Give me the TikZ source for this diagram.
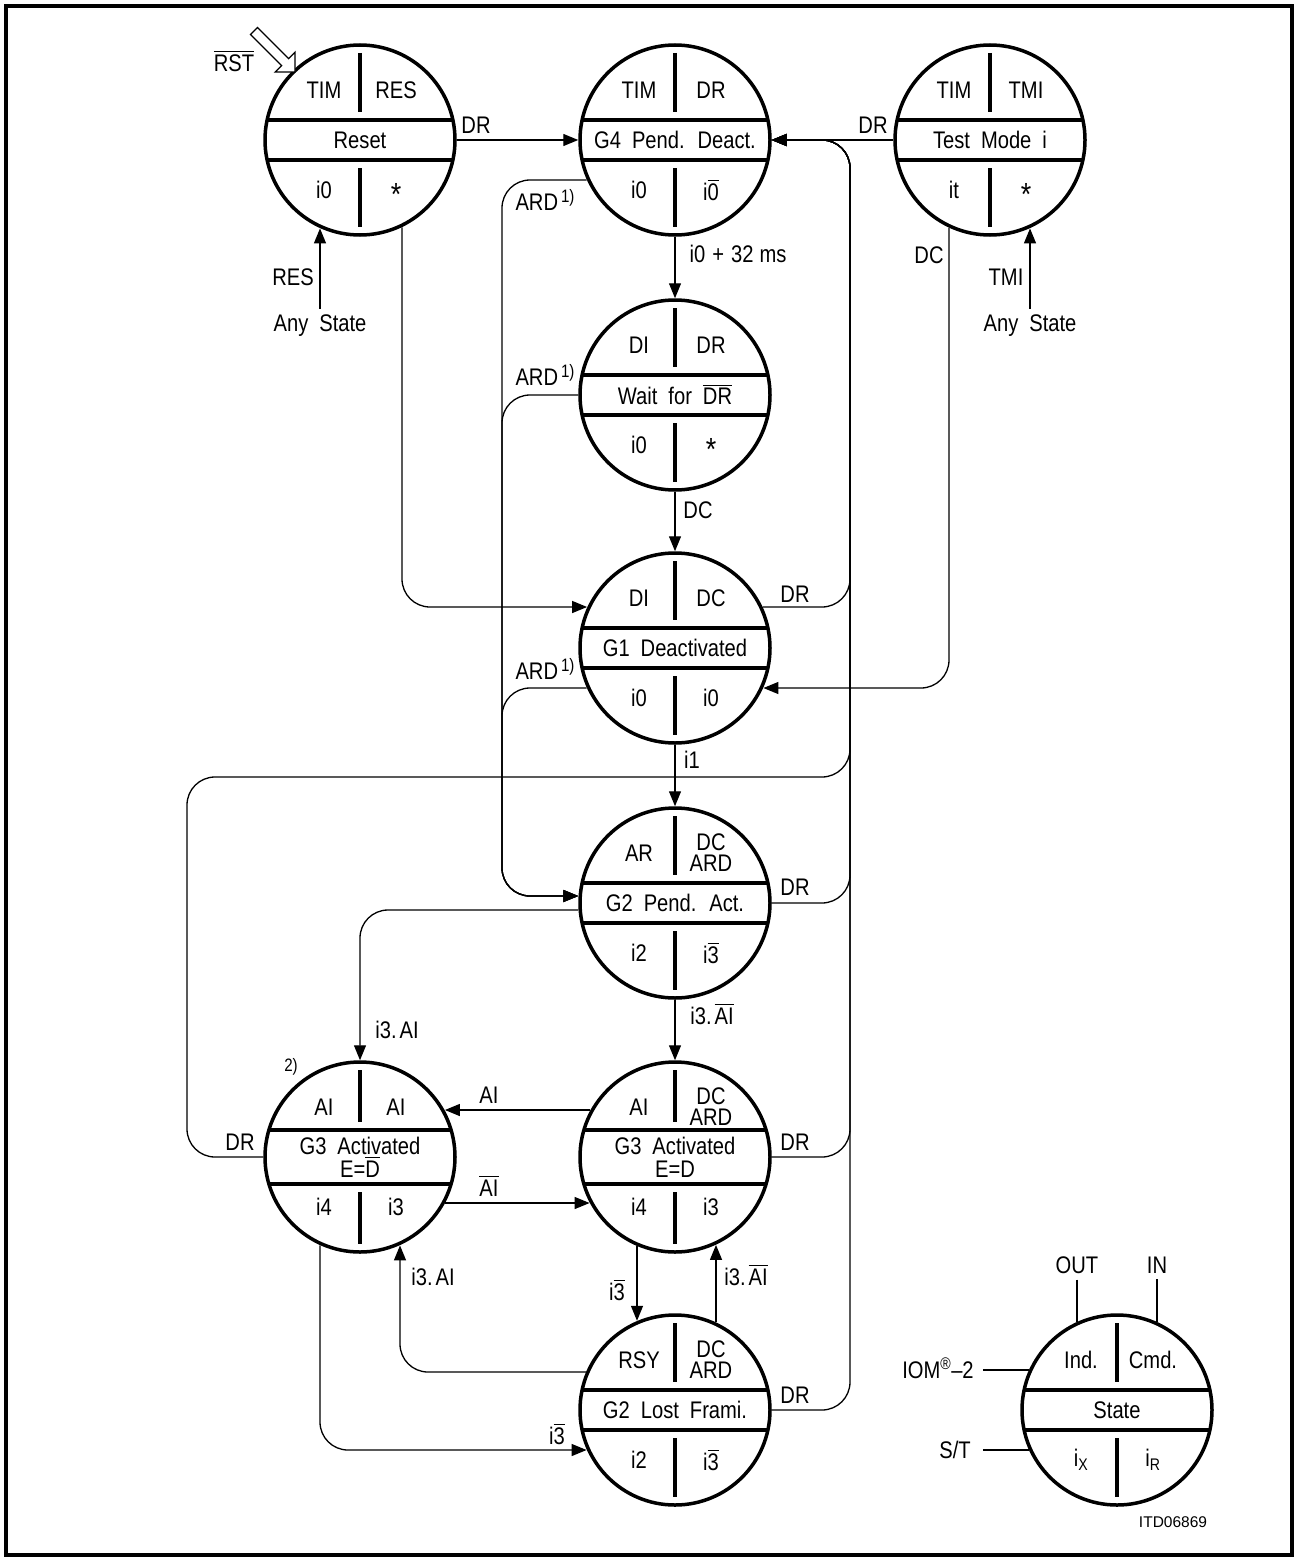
\documentclass[tikz,border=0pt]{standalone}
\usepackage{fontspec}
\setmainfont[FakeStretch=0.84]{Liberation Sans}
\newfontfamily\plainsans{Liberation Sans}
\usetikzlibrary{arrows.meta,calc}
\newcommand\lblfont{\fontsize{24}{23}\selectfont\spaceskip=11pt plus 2pt\relax}
\newcommand\ovl[1]{\leavevmode\vbox{\hrule height 1.5pt\kern 2.2pt\hbox{#1}}}
\newcommand\astx{\vphantom{T}\smash{\raisebox{-7pt}{\fontsize{32}{32}\selectfont *}}}
\newcommand\supone{\hspace{3pt}\raisebox{8pt}{\fontsize{18}{18}\selectfont 1)}}
\newcommand\mkstate[9]{%
  \node[stc] (#1) at (#2,#3) {};
  \pgfmathsetmacro\mkhw{sqrt(9025-#4*#4)}
  \draw[bandln] ({#2-\mkhw},{#3-#4}) -- ({#2+\mkhw},{#3-#4});
  \draw[bandln] ({#2-\mkhw},{#3+#4}) -- ({#2+\mkhw},{#3+#4});
  \draw[bandln] (#2,{#3-87}) -- (#2,{#3-#4-8});
  \draw[bandln] (#2,{#3+#4+8}) -- (#2,{#3+87});
  \node[stxt] (#1-tl) at ({#2-36},{#3-50}) {#5};
  \node[stxt] (#1-tr) at ({#2+36},{#3-50}) {#6};
  \node[stxt] (#1-band) at (#2,#3) {#7};
  \node[stxt] (#1-bl) at ({#2-36},{#3+50}) {#8};
  \node[stxt] (#1-br) at ({#2+36},{#3+50}) {#9};
}
\begin{document}
\begin{tikzpicture}[x=1pt,y=-1pt,
  stc/.style={circle,draw,line width=3.5pt,minimum size=190pt,inner sep=0pt},
  bandln/.style={line width=3.6pt},
  stxt/.style={font=\lblfont,inner sep=0pt,align=center},
  lbl/.style={font=\lblfont,inner sep=0pt},
  conn/.style={line width=1.3pt,rounded corners=28pt},
  arr/.style={-{Triangle[length=15pt,width=12pt]}},
  ]
\useasboundingbox (0,0) rectangle (1297,1560);
\draw[line width=4pt] (6,6) rectangle (1292,1555);

% states
\mkstate{reset}{360}{140}{20}{TIM}{RES}{Reset}{i0}{\astx}
\mkstate{gfour}{675}{140}{20}{TIM}{DR}{G4 Pend. Deact.}{i0}{i\ovl{0}}
\mkstate{tmode}{990}{140}{20}{TIM}{TMI}{Test Mode i}{it}{\astx}
\mkstate{wait}{675}{395}{20}{DI}{DR}{Wait for \ovl{DR}}{i0}{\astx}
\mkstate{gone}{675}{648}{20}{DI}{DC}{G1 Deactivated}{i0}{i0}
\mkstate{gtwo}{675}{903}{20}{AR}{DC\\[-2pt]ARD}{G2 Pend. Act.}{i2}{i\ovl{3}}
\mkstate{gthr}{675}{1157}{27}{AI}{DC\\[-2pt]ARD}{G3 Activated\\E=D}{i4}{i3}
\mkstate{gthl}{360}{1157}{27}{AI}{AI}{G3 Activated\\E=\ovl{D}}{i4}{i3}
\mkstate{glost}{675}{1410}{20}{RSY}{DC\\[-2pt]ARD}{G2 Lost Frami.}{i2}{i\ovl{3}}
\mkstate{legend}{1117}{1410}{20}{Ind.}{Cmd.}{State}{i\textsubscript{X}}{i\textsubscript{R}}

% reset hollow arrow
\draw[line width=1.3pt,fill=white] (295,72) -- (295,52.2) -- (288.6,58.6) -- (257.5,27.5) -- (250.5,34.5) -- (281.6,65.6) -- (275.2,72) -- cycle;

% coordinates on circles
\coordinate (resIn) at ($(reset)+(-40,88.4)$);
\coordinate (resOut) at ($(reset)+(42,87.4)$);
\coordinate (gfARD) at ($(gfour)+(-88.4,40)$);
\coordinate (goARD) at ($(gone)+(-88.4,40)$);
\coordinate (goRes) at ($(gone)+(-87.9,-41)$);
\coordinate (goDR) at ($(gone)+(87.9,-41)$);
\coordinate (goDC) at ($(gone)+(88.4,40)$);
\coordinate (gtARD) at ($(gtwo)+(-96.7,-7)$);
\coordinate (gtOut) at ($(gtwo)+(-96.7,7)$);
\coordinate (grAI) at ($(gthr)+(-84.9,-47)$);
\coordinate (grAIb) at ($(gthr)+(-85.4,46)$);
\coordinate (grDown) at ($(gthr)+(-38,89.2)$);
\coordinate (grUp) at ($(gthr)+(41,87.9)$);
\coordinate (glAI) at ($(gthl)+(84.9,-47)$);
\coordinate (glAIb) at ($(gthl)+(85.4,46)$);
\coordinate (glUp) at ($(gthl)+(40,88.4)$);
\coordinate (glDown) at ($(gthl)+(-40,88.4)$);
\coordinate (lsTopL) at ($(glost)+(-38,-89.2)$);
\coordinate (lsTopR) at ($(glost)+(41,-87.9)$);
\coordinate (lsL1) at ($(glost)+(-89.2,-38)$);
\coordinate (lsL2) at ($(glost)+(-88.4,40)$);
\coordinate (tmDC) at ($(tmode)+(-41,87.9)$);
\coordinate (tmIn) at ($(tmode)+(40,88.4)$);
\coordinate (lgOut) at ($(legend)+(-40,-88.4)$);
\coordinate (lgIn) at ($(legend)+(40,-88.4)$);
\coordinate (lgIom) at ($(legend)+(-88.4,-40)$);
\coordinate (lgST) at ($(legend)+(-88.4,40)$);
\coordinate (busR) at (850,140);
\coordinate (busL) at (187,777);
\coordinate (busA) at (502,896);

% labels
\node[lbl] (rstL) at (234,61) {\ovl{RST}};
\node[lbl] (drA) at (476,125) {DR};
\node[lbl] (drB) at (873,125) {DR};
\node[lbl] (ardA) at (545,200) {ARD\supone};
\node[lbl] (ardB) at (545,375) {ARD\supone};
\node[lbl] (ardC) at (545,669) {ARD\supone};
\node[lbl] (i032) at (738,254) {i0\hspace{7pt}+\hspace{7pt}32\hspace{6pt}ms};
\node[lbl] (resL) at (293,277) {RES};
\node[lbl] (anyA) at (320,326) {Any State};
\node[lbl] (dcT) at (929,255) {DC};
\node[lbl] (tmiL) at (1006,277) {TMI};
\node[lbl] (anyB) at (1030,326) {Any State};
\node[lbl] (dcW) at (698,510) {DC};
\node[lbl] (drG1) at (795,594) {DR};
\node[lbl] (i1L) at (692,760) {i1};
\node[lbl] (drG2) at (795,887) {DR};
\node[lbl] (i3aiA) at (397,1030) {i3.\hspace{3pt}AI};
\node[lbl] (i3aibA) at (712,1014) {i3.\hspace{3pt}\ovl{AI}};
\node[font=\fontsize{18}{20}\selectfont,inner sep=0pt] (fn2) at (291,1067) {2)};
\node[lbl] (aiL) at (489,1095) {AI};
\node[lbl] (drG3l) at (240,1142) {DR};
\node[lbl] (drG3r) at (795,1142) {DR};
\node[lbl] (aibL) at (489,1186) {\ovl{AI}};
\node[lbl] (i3aiB) at (433,1277) {i3.\hspace{3pt}AI};
\node[lbl] (i3bA) at (617,1290) {i\ovl{3}};
\node[lbl] (i3aibB) at (746,1275) {i3.\hspace{3pt}\ovl{AI}};
\node[lbl] (drLs) at (795,1395) {DR};
\node[lbl] (i3bB) at (557,1434) {i\ovl{3}};
\node[lbl] (outL) at (1077,1265) {OUT};
\node[lbl] (inL) at (1157,1265) {IN};
\node[lbl] (iomL) at (938,1370) {IOM\smash{\textsuperscript{\textregistered}}–2};
\node[lbl] (stL) at (955,1450) {S/T};
\node[font=\plainsans\fontsize{15.5}{17}\selectfont,inner sep=0pt] (itd) at (1173,1522) {ITD06869};

% connectors
\draw[conn,arr] (reset.east) -- (gfour.west);
\draw[conn,arr] (tmode.west) -- (gfour.east);
\draw[conn,arr] (gfour.south) -- (wait.north);
\draw[conn,arr] (wait.south) -- (gone.north);
\draw[conn,arr] (gone.south) -- (gtwo.north);
\draw[conn,arr] (gtwo.south) -- (gthr.north);
\draw[conn,arr] (gfARD) -| (busA) -- (gtARD);
\draw[conn,arr] (wait.west) -| (busA) -- (gtARD);
\draw[conn,arr] (goARD) -| (busA) -- (gtARD);
\draw[conn,arr] (resOut) |- (goRes);
\draw[conn,arr] ($(anyA.north)+(0,-6)$) -- (resIn);
\draw[conn,arr] ($(anyB.north)+(0,-6)$) -- (tmIn);
\draw[conn,arr] (goDR) -| (busR) -- (gfour.east);
\draw[conn,arr] (gtwo.east) -| (busR) -- (gfour.east);
\draw[conn,arr] (gthr.east) -| (busR) -- (gfour.east);
\draw[conn,arr] (glost.east) -| (busR) -- (gfour.east);
\draw[conn,arr] (gthl.west) -| (busL) -| (busR) -- (gfour.east);
\draw[conn,arr] (tmDC) |- (goDC);
\draw[conn,arr] (gtOut) -| (gthl.north);
\draw[conn,arr] (grAI) -- (glAI);
\draw[conn,arr] (glAIb) -- (grAIb);
\draw[conn,arr] (grDown) -- (lsTopL);
\draw[conn,arr] (lsTopR) -- (grUp);
\draw[conn,arr] (lsL1) -| (glUp);
\draw[conn,arr] (glDown) |- (lsL2);
\draw[conn] ($(outL.south)+(0,6)$) -- (lgOut);
\draw[conn] ($(inL.south)+(0,6)$) -- (lgIn);
\draw[conn] ($(iomL.east)+(9,0)$) -- (lgIom);
\draw[conn] ($(stL.east)+(12,0)$) -- (lgST);
\end{tikzpicture}
\end{document}
